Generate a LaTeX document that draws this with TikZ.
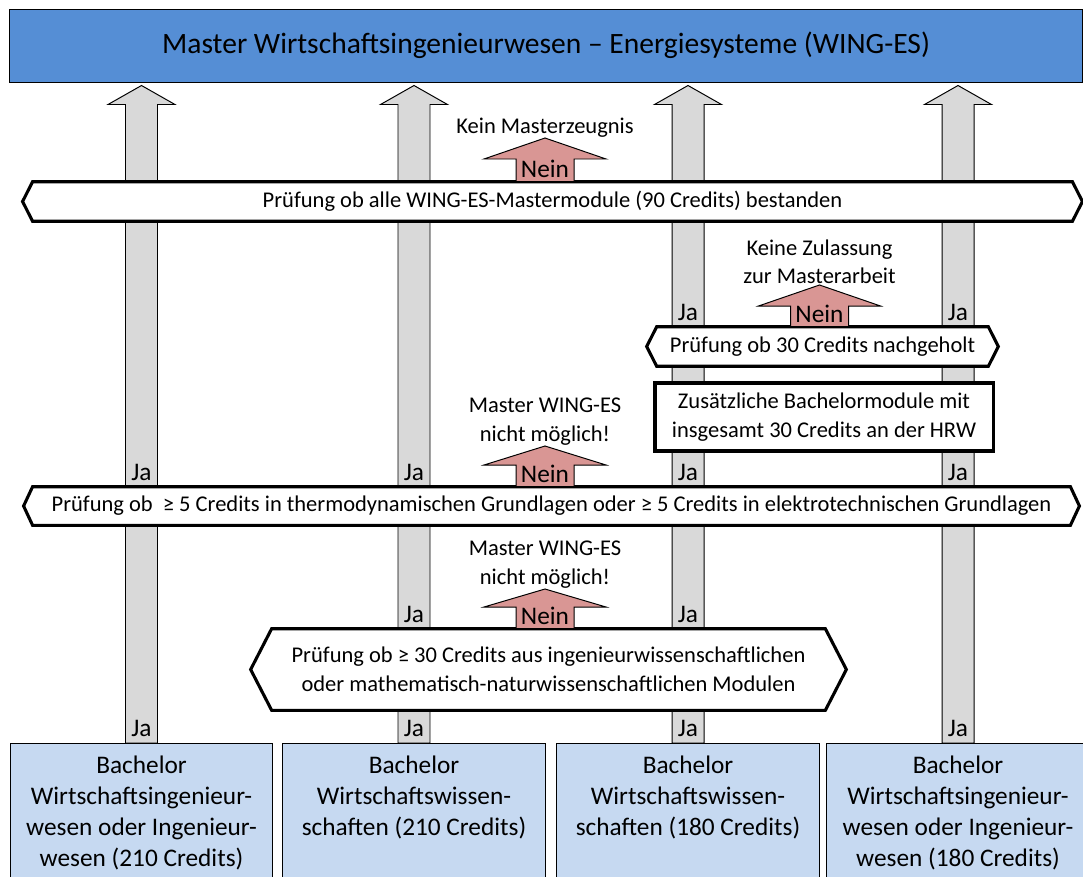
\documentclass[tikz,border=0pt]{standalone}
\usepackage{fontspec}
\setmainfont{Carlito}
\usetikzlibrary{calc}

\definecolor{masterblue}{HTML}{558ED5}
\definecolor{bachelorblue}{HTML}{C6D9F1}
\definecolor{jagray}{HTML}{D9D9D9}
\definecolor{neinred}{HTML}{D99694}

\pgfdeclarelayer{background}
\pgfsetlayers{background,main}

% block arrow pointing up: style, from, to, shaft half width, head half width, head length
\newcommand{\blockup}[6]{%
  \path (#2) coordinate (bu-from) (#3) coordinate (bu-to);
  \filldraw[#1] ($(bu-from)+(-#4,0)$) -- ($(bu-to)+(-#4,#6)$) -- ($(bu-to)+(-#5,#6)$)
    -- (bu-to) -- ($(bu-to)+(#5,#6)$) -- ($(bu-to)+(#4,#6)$) -- ($(bu-from)+(#4,0)$) -- cycle;}

% hexagon frame round a check node: node, tip depth
\newcommand{\hexframe}[2]{%
  \filldraw[checkline] (#1.north west) -- (#1.north east) -- ($(#1.east)+(#2,0)$)
    -- (#1.south east) -- (#1.south west) -- ($(#1.west)+(-#2,0)$) -- cycle;}

\tikzset{
  masterbox/.style={draw, line width=0.7pt, fill=masterblue, inner sep=0pt,
    minimum width=26.8cm, minimum height=1.825cm, font=\fontsize{21pt}{25pt}\selectfont},
  bachelorbox/.style={draw, line width=1pt, fill=bachelorblue, anchor=north, align=center,
    minimum width=6.56cm, inner xsep=0pt, inner ysep=9pt, text depth=2.5cm,
    font=\fontsize{18pt}{22pt}\selectfont},
  checknode/.style={inner sep=0pt, align=center, font=\fontsize{16pt}{20.5pt}\selectfont},
  checkline/.style={draw, line width=2.2pt, fill=white},
  extrabox/.style={draw, line width=2.2pt, fill=white, inner sep=0pt, align=center,
    minimum width=8.45cm, minimum height=1.7cm, font=\fontsize{16pt}{20.5pt}\selectfont},
  jaarrow/.style={draw, line width=0.7pt, fill=jagray},
  neinarrow/.style={draw, line width=0.7pt, fill=neinred},
  jalabel/.style={anchor=south, inner sep=0pt, yshift=4pt, font=\fontsize{18pt}{20pt}\selectfont},
  neinlabel/.style={anchor=south, inner sep=0pt, yshift=2.5pt, font=\fontsize{18pt}{20pt}\selectfont},
  outcome/.style={anchor=south, inner sep=0.5pt, align=center, font=\fontsize{16pt}{20.5pt}\selectfont}
}

\begin{document}
\begin{tikzpicture}[x=0.025cm, y=-0.025cm]
  \useasboundingbox (0,0) rectangle (1083,876);

  % Master and bachelor programmes
  \node[masterbox] (master) at (546,45.5) {Master Wirtschaftsingenieurwesen – Energiesysteme (WING-ES)};
  \node[bachelorbox] (bwi210) at (141.5,743) {Bachelor\\Wirtschaftsingenieur-\\wesen oder Ingenieur-\\wesen (210 Credits)};
  \node[bachelorbox] (bww210) at (414,743) {Bachelor\\Wirtschaftswissen-\\schaften (210 Credits)};
  \node[bachelorbox] (bww180) at (688,743) {Bachelor\\Wirtschaftswissen-\\schaften (180 Credits)};
  \node[bachelorbox] (bwi180) at (958,743) {Bachelor\\Wirtschaftsingenieur-\\wesen oder Ingenieur-\\wesen (180 Credits)};

  % Checks
  \node[checknode, minimum width=25.975cm, minimum height=0.975cm] (chkall) at (552.5,201.5)
    {Prüfung ob alle WING-ES-Mastermodule (90 Credits) bestanden};
  \node[checknode, minimum width=8.275cm, minimum height=0.975cm] (chkthirty) at (822.5,346.5)
    {Prüfung ob 30 Credits nachgeholt};
  \node[extrabox] (extra) at (824,417) {Zusätzliche Bachelormodule mit\\insgesamt 30 Credits an der HRW};
  \node[checknode, minimum width=25.925cm, minimum height=0.95cm] (chkbasics) at (551.5,506)
    {Prüfung ob \ ≥ 5 Credits in thermodynamischen Grundlagen oder ≥ 5 Credits in elektrotechnischen Grundlagen};
  \node[checknode, minimum width=13.825cm, minimum height=2.025cm] (chkeng) at (548.5,669.5)
    {Prüfung ob ≥ 30 Credits aus ingenieurwissenschaftlichen\\oder mathematisch-naturwissenschaftlichen Modulen};

  % Nein tips and outcomes
  \coordinate (tip-zeugnis) at (545,138);
  \coordinate (tip-zulassung) at (819.5,285);
  \coordinate (tip-basics) at (545,446);
  \coordinate (tip-eng) at (545,589);
  \node[outcome] (nozeugnis) at (tip-zeugnis) {Kein Masterzeugnis};
  \node[outcome] (nozulassung) at (tip-zulassung) {Keine Zulassung\\zur Masterarbeit};
  \node[outcome] (nobasics) at (tip-basics) {Master WING-ES\\nicht möglich!};
  \node[outcome] (noeng) at (tip-eng) {Master WING-ES\\nicht möglich!};

  \node[neinlabel] (nein-zeugnis) at (tip-zeugnis |- chkall.north) {Nein};
  \node[neinlabel] (nein-zulassung) at (tip-zulassung |- chkthirty.north) {Nein};
  \node[neinlabel] (nein-basics) at (tip-basics |- chkbasics.north) {Nein};
  \node[neinlabel] (nein-eng) at (tip-eng |- chkeng.north) {Nein};

  % Ja labels
  \foreach \b in {bwi210,bww210,bww180,bwi180} {
    \node[jalabel] (ja-\b) at (\b.north) {Ja};
    \node[jalabel] (ja-basics-\b) at (\b.north |- chkbasics.north) {Ja};
  }
  \foreach \b in {bww210,bww180}
    \node[jalabel] (ja-eng-\b) at (\b.north |- chkeng.north) {Ja};
  \foreach \b in {bww180,bwi180}
    \node[jalabel] (ja-thirty-\b) at (\b.north |- chkthirty.north) {Ja};

  \begin{pgfonlayer}{background}
    % Ja arrows up to the master
    \foreach \b in {bwi210,bww210,bww180,bwi180}
      \blockup{jaarrow}{\b.north}{$(\b.north |- master.south)+(0,3)$}{16}{33.5}{19};

    % check frames
    \hexframe{chkall}{10}
    \hexframe{chkthirty}{10}
    \hexframe{chkbasics}{9}
    \hexframe{chkeng}{21}

    % Nein arrows
    \blockup{neinarrow}{tip-zeugnis |- chkall.north}{tip-zeugnis}{29}{61}{21}
    \blockup{neinarrow}{tip-zulassung |- chkthirty.north}{tip-zulassung}{29}{61}{21}
    \blockup{neinarrow}{tip-basics |- chkbasics.north}{tip-basics}{29}{61}{19}
    \blockup{neinarrow}{tip-eng |- chkeng.north}{tip-eng}{29}{61}{18}
  \end{pgfonlayer}
\end{tikzpicture}
\end{document}
